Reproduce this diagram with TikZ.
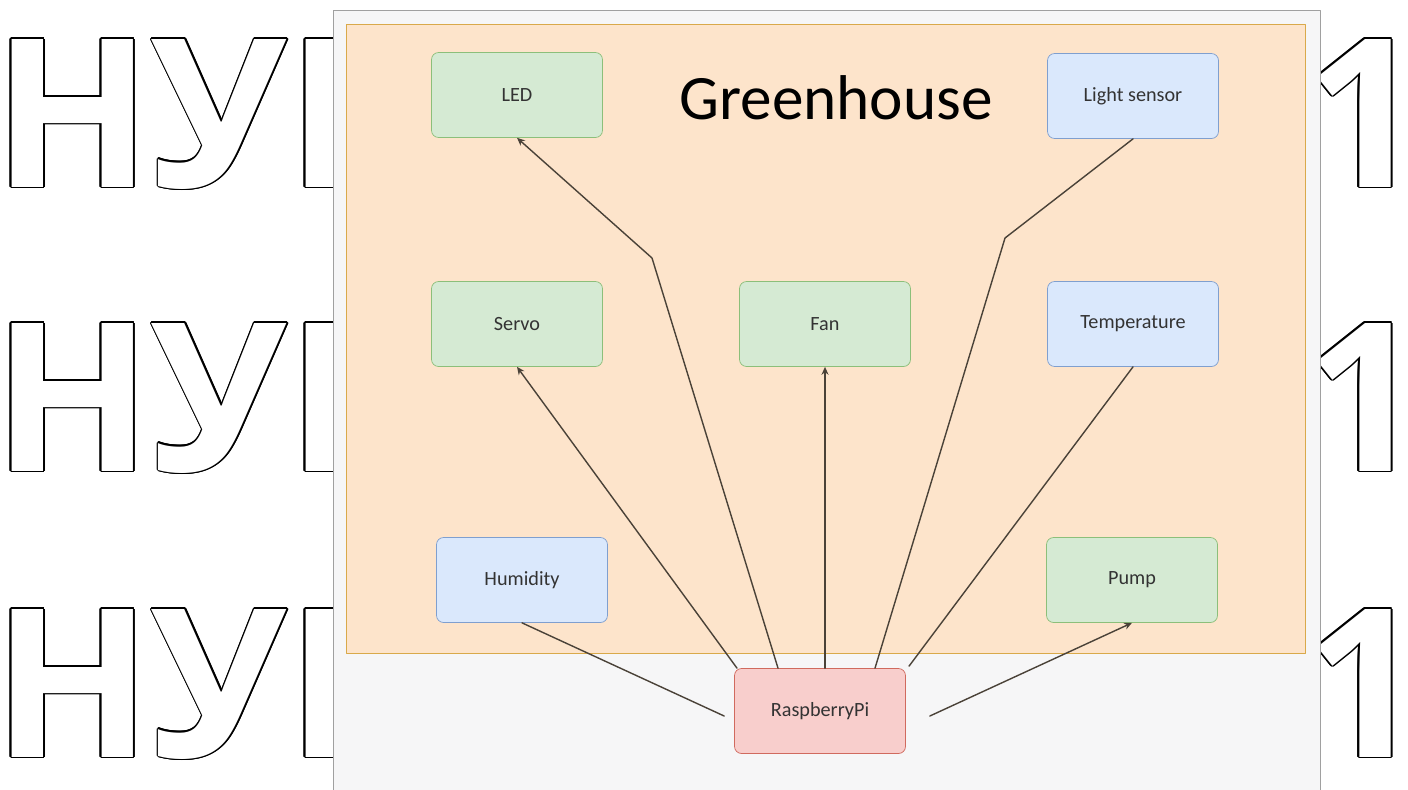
\documentclass[tikz,border=0pt]{standalone}
\usepackage{fontspec}
\setmainfont{Carlito}
\newfontfamily\wmfont{Open Sans}
\usetikzlibrary{positioning,calc,arrows.meta}

\definecolor{peach}{HTML}{FDE4CB}
\definecolor{peachedge}{HTML}{D9A94A}
\definecolor{panelgray}{HTML}{F6F6F7}
\definecolor{paneledge}{HTML}{A0A0A0}
\definecolor{boxgreen}{HTML}{D5EAD3}
\definecolor{edgegreen}{HTML}{8CBF7A}
\definecolor{boxblue}{HTML}{DAE8FC}
\definecolor{edgeblue}{HTML}{7F9FCF}
\definecolor{boxred}{HTML}{F8CECC}
\definecolor{edgered}{HTML}{D06A5E}
\definecolor{linkgray}{HTML}{4A4238}

\begin{document}
\begin{tikzpicture}[x=0.02cm, y=-0.02cm, line cap=round, line join=round,
    >={Stealth[length=4.5pt,width=4pt]}, font=\fontsize{11.5}{13}\selectfont]
	\tikzset{box/.style={rounded corners=4pt, minimum width=3.42cm, minimum height=1.7cm,
			text=black!80, line width=0.4pt},
		greenbox/.style={box, fill=boxgreen, draw=edgegreen},
		bluebox/.style={box, fill=boxblue, draw=edgeblue},
		redbox/.style={box, fill=boxred, draw=edgered},
		link/.style={draw=linkgray, line width=0.8pt},
		wm/.style={font=\wmfont\bfseries\fontsize{118}{120}\selectfont, inner sep=0pt}}
	\useasboundingbox (0,0) rectangle (1408,789);
	\fill[white] (0,0) rectangle (1408,789);
	% watermark behind the screenshot
	\foreach \r/\yb in {1/187,2/471,3/757}{
		\foreach \a in {0,30,...,330}{
			\node[wm, text=black, anchor=base west] at ($(-7,\yb)+(\a:1.8)$) {НУБ};
			\node[wm, text=black, anchor=base east] at ($(1424,\yb)+(\a:1.8)$) {1};
		}
		\node[wm, text=white, anchor=base west] (wm\r) at (-7,\yb) {НУБ};
		\node[wm, text=white, anchor=base east] (one\r) at (1424,\yb) {1};
	}
	% screenshot panel
	\draw[fill=panelgray, draw=paneledge] (333,10) rectangle (1320,800);
	\draw[fill=peach, draw=peachedge] (346,24) rectangle (1305,653);
	\node[font=\fontsize{36}{40}\selectfont] (title) at (836,98) {Greenhouse};
	% boxes
	\node[greenbox] (led) at (517,95) {LED};
	\node[bluebox] (light) at (1133,96) {Light sensor};
	\node[greenbox] (servo) at (517,324) {Servo};
	\node[greenbox] (fan) at (825,324) {Fan};
	\node[bluebox] (temp) at (1133,324) {Temperature};
	\node[bluebox] (hum) at (522,580) {Humidity};
	\node[greenbox] (pump) at (1132,580) {Pump};
	\node[redbox] (rpi) at (820,711) {RaspberryPi};
	% wires
	\coordinate (ledbend) at (652,258);
	\coordinate (lightbend) at (1005,238);
	\draw[link,->] ($(rpi.north)+(-42,0)$) -- (ledbend) -- (led.south);
	\draw[link,->] ($(rpi.north)+(-83,0)$) -- (servo.south);
	\draw[link,->] ($(rpi.north)+(5,0)$) -- (fan.south);
	\draw[link] ($(rpi.north)+(55,0)$) -- (lightbend) -- (light.south);
	\draw[link] ($(rpi.north)+(89,-2)$) -- (temp.south);
	\draw[link] ($(rpi.west)+(-10,5)$) -- (hum.south);
	\draw[link,->] ($(rpi.east)+(24,5)$) -- (pump.south);
\end{tikzpicture}
\end{document}
